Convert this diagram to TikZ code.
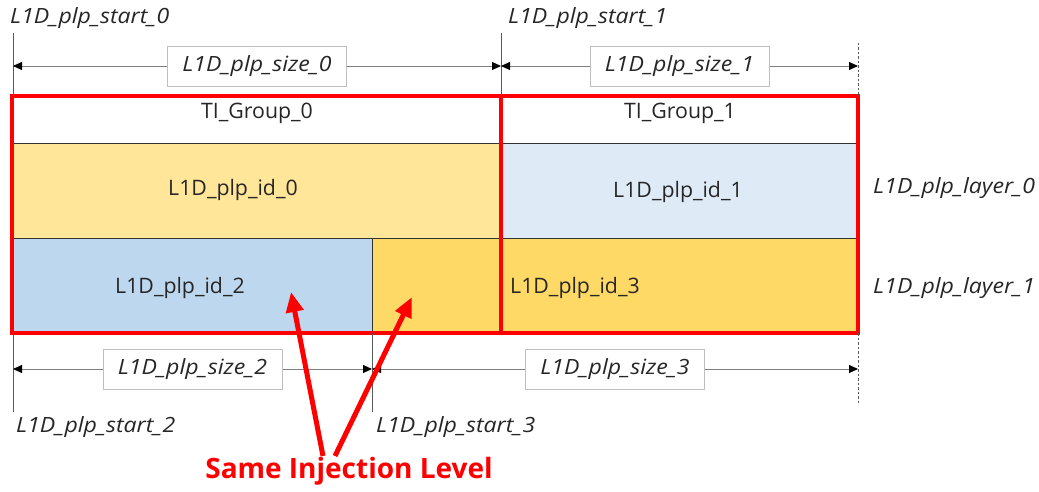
\documentclass[tikz,border=0pt]{standalone}
\usepackage{fontspec}
\setmainfont{Open Sans}
\newfontfamily\itfam[FakeStretch=1.1]{Open Sans Italic}
\usetikzlibrary{arrows.meta,calc}
\definecolor{cyel}{HTML}{FFE699}
\definecolor{cyeltwo}{HTML}{FFD966}
\definecolor{cblue}{HTML}{BDD7EE}
\definecolor{cbluetwo}{HTML}{DEEBF7}
\definecolor{cred}{HTML}{FF0000}
\definecolor{ctext}{HTML}{262626}
\begin{document}
\begin{tikzpicture}[x=1pt,y=-1pt,
  lbl/.style={font=\fontsize{21.3}{25}\selectfont, text=ctext, inner sep=0pt},
  ilbl/.style={font=\itfam\fontsize{21}{25}\selectfont, text=ctext, inner sep=0pt},
  sizebox/.style={draw=black!25, line width=0.8pt, fill=white, font=\itfam\fontsize{21}{25}\selectfont, text=ctext, minimum width=179pt, minimum height=40pt, inner sep=0pt},
  dimline/.style={draw=black!50, line width=0.9pt, {Triangle[length=9pt,width=8pt,color=black]}-{Triangle[length=9pt,width=8pt,color=black]}},
  tickline/.style={draw=black!65, line width=0.8pt},
  dashtick/.style={draw=black!65, line width=0.7pt, dash pattern=on 2.5pt off 2pt},
  cellline/.style={draw=black!80, line width=0.8pt},
  redbox/.style={draw=cred, line width=3.2pt},
  redarrow/.style={draw=cred, line width=5pt, -{Triangle[length=20pt,width=17pt]}},
]
\useasboundingbox (0,0) rectangle (1039,492);
% cell fills
\fill[white] (12,96) rectangle (858,143);
\fill[cyel] (12,143) rectangle (501,238);
\fill[cbluetwo] (501,143) rectangle (858,238);
\fill[cblue] (12,238) rectangle (372,333);
\fill[cyeltwo] (372,238) rectangle (858,333);
\draw[cellline] (12,143) -- (858,143);
\draw[cellline] (12,238) -- (858,238);
\draw[cellline] (372,238) -- (372,333);
% red group boxes
\draw[redbox] (12,96) rectangle (501,333);
\draw[redbox] (501,96) rectangle (858,333);
% cell labels
\node[lbl] (tg0) at (257,113) {TI\_Group\_0};
\node[lbl] (tg1) at (680,113) {TI\_Group\_1};
\node[lbl] (id0) at (233,190) {L1D\_plp\_id\_0};
\node[lbl] (id1) at (678,192) {L1D\_plp\_id\_1};
\node[lbl] (id2) at (180,288) {L1D\_plp\_id\_2};
\node[lbl, anchor=west] (id3) at (510,288) {L1D\_plp\_id\_3};
% start ticks
\coordinate (a0t) at (13,33);  \coordinate (a0b) at (13,96);
\coordinate (a1t) at (501,33); \coordinate (a1b) at (501,96);
\coordinate (a2t) at (858,43); \coordinate (a2b) at (858,96);
\coordinate (b0t) at (13,333);  \coordinate (b0b) at (13,412);
\coordinate (b1t) at (372,333); \coordinate (b1b) at (372,412);
\coordinate (b2t) at (858,333); \coordinate (b2b) at (858,404);
\draw[tickline] (a0t) -- (a0b);
\draw[tickline] (a1t) -- (a1b);
\draw[dashtick] (a2t) -- (a2b);
\draw[tickline] (b0t) -- (b0b);
\draw[tickline] (b1t) -- (b1b);
\draw[dashtick] (b2t) -- (b2b);
% dimension arrows
\coordinate (d0a) at (13,66);  \coordinate (d0b) at (501,66);
\coordinate (d1a) at (501,66); \coordinate (d1b) at (858,66);
\coordinate (d2a) at (13,369); \coordinate (d2b) at (372,369);
\coordinate (d3a) at (372,369); \coordinate (d3b) at (858,369);
\draw[dimline] (d0a) -- (d0b);
\draw[dimline] (d1a) -- (d1b);
\draw[dimline] (d2a) -- (d2b);
\draw[dimline] (d3a) -- (d3b);
\node[sizebox] (sz0) at ($(d0a)!0.5!(d0b)$) {L1D\_plp\_size\_0};
\node[sizebox] (sz1) at ($(d1a)!0.5!(d1b)$) {L1D\_plp\_size\_1};
\node[sizebox] (sz2) at ($(d2a)!0.5!(d2b)$) {L1D\_plp\_size\_2};
\node[sizebox] (sz3) at ($(d3a)!0.5!(d3b)$) {L1D\_plp\_size\_3};
% start labels
\node[ilbl, anchor=west] (st0) at (10,18) {L1D\_plp\_start\_0};
\node[ilbl, anchor=west] (st1) at (508,18) {L1D\_plp\_start\_1};
\node[ilbl, anchor=west] (st2) at (16,427) {L1D\_plp\_start\_2};
\node[ilbl, anchor=west] (st3) at (376,427) {L1D\_plp\_start\_3};
% layer labels
\node[ilbl, anchor=west] (ly0) at (873,188) {L1D\_plp\_layer\_0};
\node[ilbl, anchor=west] (ly1) at (873,288) {L1D\_plp\_layer\_1};
% same injection level
\node[font=\fontsize{28}{32}\selectfont\bfseries, text=cred, inner sep=0pt] (sil) at (349,471) {Same Injection Level};
\coordinate (r1s) at (323,456); \coordinate (r1e) at (291,292);
\coordinate (r2s) at (335,456); \coordinate (r2e) at (412,297);
\draw[redarrow] (r1s) -- (r1e);
\draw[redarrow] (r2s) -- (r2e);
\end{tikzpicture}
\end{document}
